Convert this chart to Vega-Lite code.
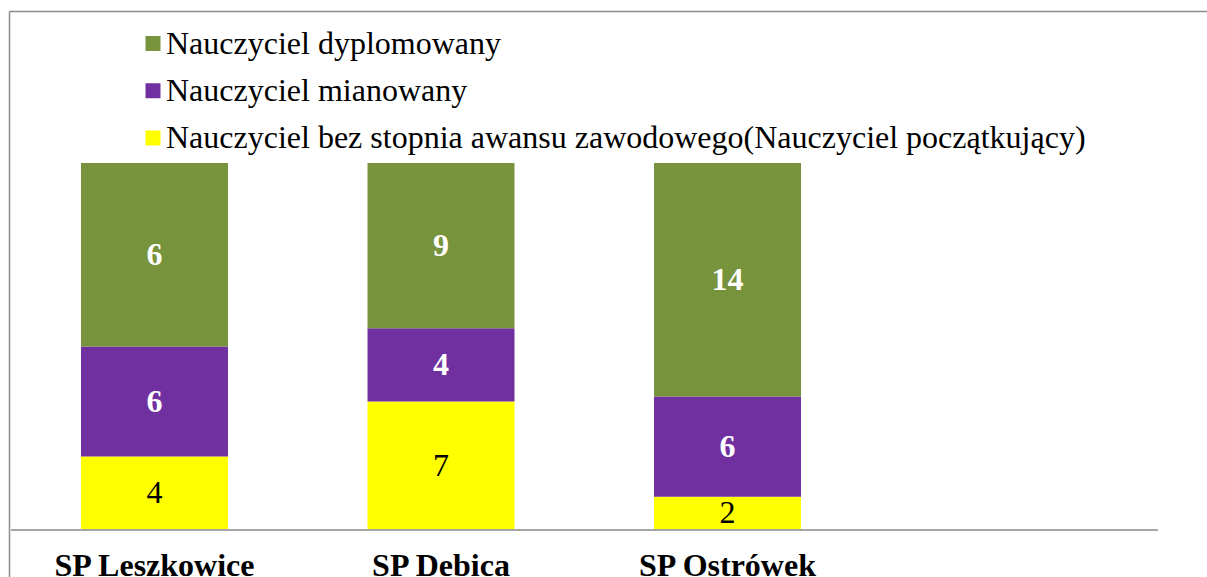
{
  "$schema": "https://vega.github.io/schema/vega-lite/v6.json",
  "autosize": {"type": "none"},
  "padding": {"left": 9, "top": 11, "right": 0, "bottom": 0},
  "width": 1198,
  "height": 566,
  "background": "white",
  "config": {
    "view": {"stroke": null},
    "font": "Liberation Serif"
  },
  "data": {
    "values": [
      {"school": "SP Leszkowice", "category": "Nauczyciel bez stopnia awansu zawodowego(Nauczyciel początkujący)", "level": 1, "value": 4, "label": "4"},
      {"school": "SP Leszkowice", "category": "Nauczyciel mianowany", "level": 2, "value": 6, "label": "6"},
      {"school": "SP Leszkowice", "category": "Nauczyciel dyplomowany", "level": 3, "value": 10, "label": "6"},
      {"school": "SP Debica", "category": "Nauczyciel bez stopnia awansu zawodowego(Nauczyciel początkujący)", "level": 1, "value": 7, "label": "7"},
      {"school": "SP Debica", "category": "Nauczyciel mianowany", "level": 2, "value": 4, "label": "4"},
      {"school": "SP Debica", "category": "Nauczyciel dyplomowany", "level": 3, "value": 9, "label": "9"},
      {"school": "SP Ostrówek", "category": "Nauczyciel bez stopnia awansu zawodowego(Nauczyciel początkujący)", "level": 1, "value": 2, "label": "2"},
      {"school": "SP Ostrówek", "category": "Nauczyciel mianowany", "level": 2, "value": 6, "label": "6"},
      {"school": "SP Ostrówek", "category": "Nauczyciel dyplomowany", "level": 3, "value": 14, "label": "14"}
    ]
  },
  "layer": [
    {
      "mark": {"type": "bar", "width": {"band": 0.513}},
      "encoding": {
        "x": {
          "field": "school", "type": "nominal",
          "scale": {"domain": ["SP Leszkowice", "SP Debica", "SP Ostrówek", " "], "paddingInner": 0, "paddingOuter": 0.09075, "align": 0.0433},
          "axis": {"orient": "top", "labels": false, "ticks": false, "title": null, "grid": false, "domain": true, "domainColor": "#8c8c8c", "domainWidth": 1.5}
        },
        "y": {
          "field": "value", "type": "quantitative", "stack": "normalize",
          "scale": {"domain": [-0.12807, 1.41417], "nice": false, "zero": false},
          "axis": {"labels": false, "ticks": false, "title": null, "grid": false, "domain": true, "domainColor": "#8c8c8c", "domainWidth": 1.5}
        },
        "color": {
          "field": "category", "type": "nominal",
          "scale": {
            "domain": ["Nauczyciel dyplomowany", "Nauczyciel mianowany", "Nauczyciel bez stopnia awansu zawodowego(Nauczyciel początkujący)"],
            "range": ["#77933C", "#7030A0", "#FFFF00"]
          },
          "legend": {
            "title": null, "orient": "none", "legendX": 128, "legendY": 16.5,
            "symbolType": "square", "symbolSize": 225, "symbolStrokeWidth": 0,
            "labelFont": "Liberation Serif", "labelFontSize": 32, "labelColor": "black",
            "labelOffset": -3, "rowPadding": 15.25, "padding": 0, "labelLimit": 2000
          }
        },
        "order": {"field": "level", "type": "quantitative"}
      }
    },
    {
      "mark": {"type": "text", "font": "Liberation Serif", "fontSize": 32, "color": "black", "baseline": "middle"},
      "encoding": {
        "x": {"field": "school", "type": "nominal"},
        "y": {"field": "value", "type": "quantitative", "stack": "normalize", "bandPosition": 0.5},
        "detail": {"field": "category"},
        "order": {"field": "level", "type": "quantitative"},
        "text": {"condition": {"test": "datum.level == 1", "field": "label"}, "value": ""}
      }
    },
    {
      "mark": {"type": "text", "font": "Liberation Serif", "fontSize": 32, "fontWeight": "bold", "color": "white", "baseline": "middle"},
      "encoding": {
        "x": {"field": "school", "type": "nominal"},
        "y": {"field": "value", "type": "quantitative", "stack": "normalize", "bandPosition": 0.5},
        "detail": {"field": "category"},
        "order": {"field": "level", "type": "quantitative"},
        "text": {"condition": {"test": "datum.level != 1", "field": "label"}, "value": ""}
      }
    },
    {
      "mark": {"type": "rule", "color": "#a6a6a6", "strokeWidth": 2},
      "encoding": {
        "x": {"datum": "SP Leszkowice", "type": "nominal", "bandPosition": 0},
        "x2": {"datum": " ", "bandPosition": 1},
        "y": {"datum": 0, "type": "quantitative"}
      }
    },
    {
      "transform": [{"filter": "datum.level == 1"}],
      "mark": {"type": "text", "font": "Liberation Serif", "fontSize": 32, "fontWeight": "bold", "color": "black", "baseline": "alphabetic"},
      "encoding": {
        "x": {"field": "school", "type": "nominal"},
        "y": {"datum": -0.12534, "type": "quantitative"},
        "text": {"field": "school"}
      }
    }
  ]
}
